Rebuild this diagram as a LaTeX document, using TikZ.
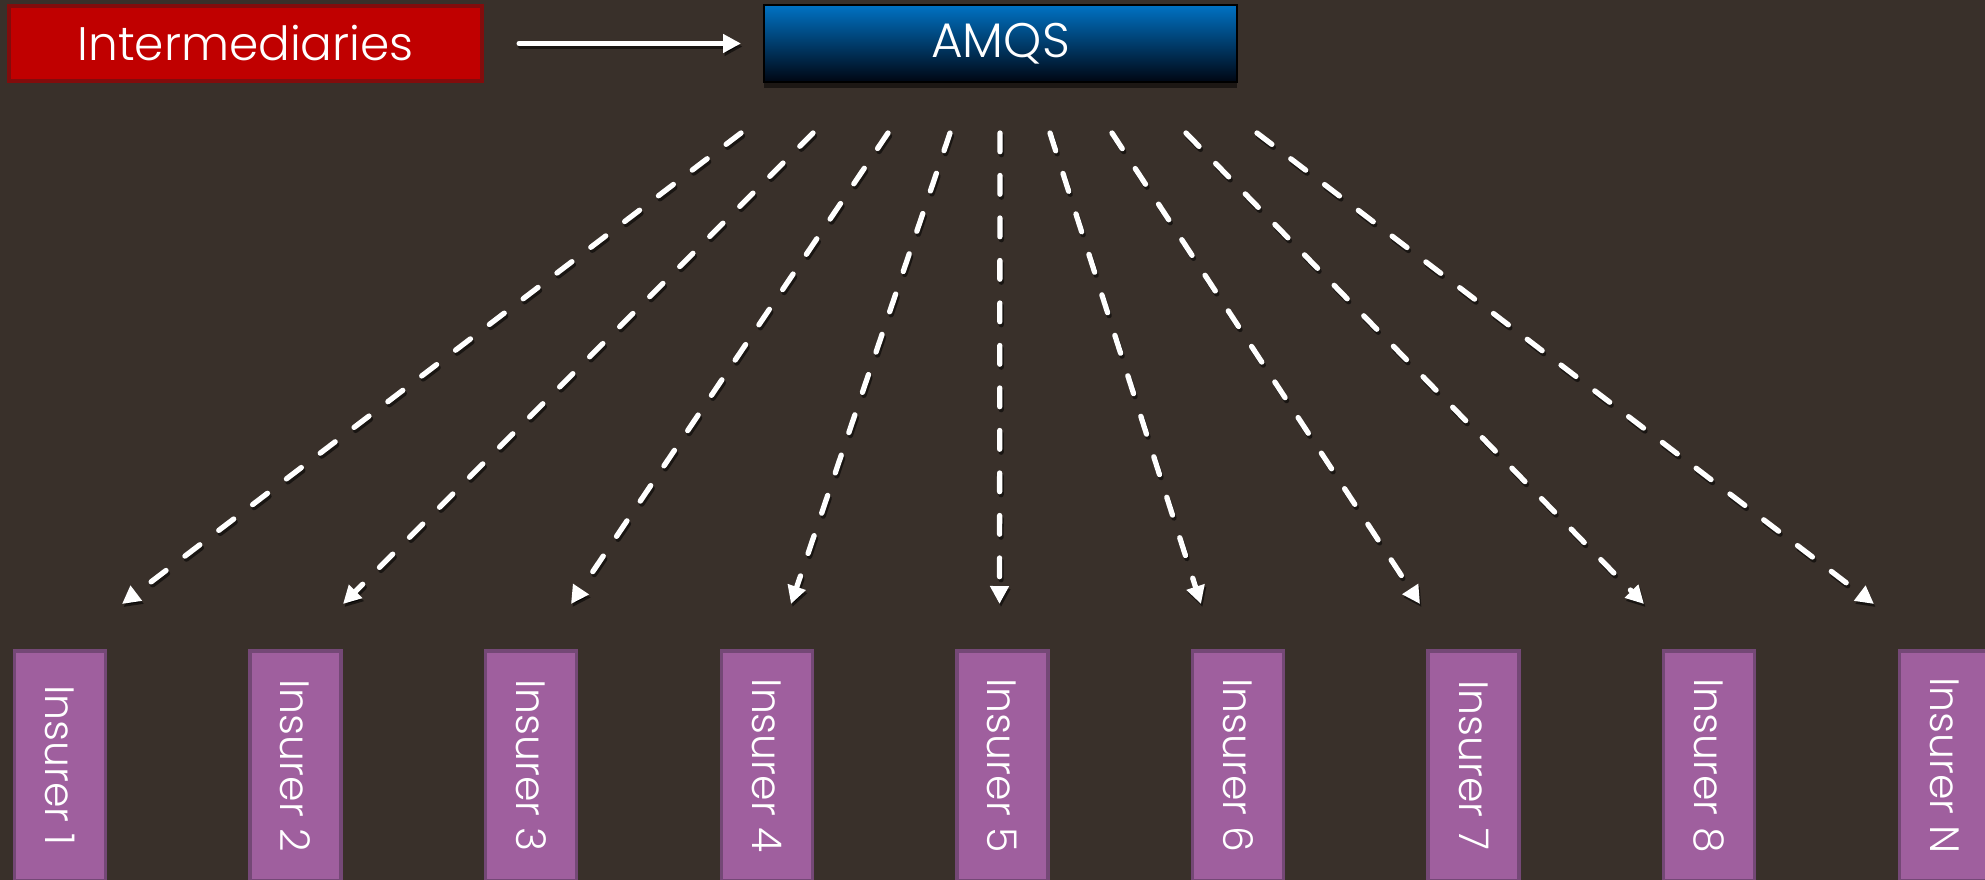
\documentclass[tikz,border=0pt]{standalone}
\usepackage{fontspec}
\setmainfont{Poppins Light}
\usetikzlibrary{arrows.meta,shadows}
\definecolor{bg}{RGB}{57,48,42}
\definecolor{redfill}{RGB}{192,0,0}
\definecolor{redline}{RGB}{130,12,12}
\definecolor{bluetop}{RGB}{0,114,196}
\definecolor{bluemid}{RGB}{0,88,158}
\definecolor{bluebot}{RGB}{0,6,18}
\definecolor{insfill}{RGB}{159,95,158}
\definecolor{insline}{RGB}{116,72,118}
\begin{document}
\begin{tikzpicture}[x=1pt,y=-1pt,
  interbox/.style={draw=redline, line width=4pt, fill=redfill, minimum width=473pt, minimum height=75pt, inner sep=0pt, text=white, font=\fontsize{47}{50}\selectfont},
  amqsbox/.style={draw=black, line width=2pt, top color=bluetop, middle color=bluemid, bottom color=bluebot, minimum width=473pt, minimum height=77pt, inner sep=0pt, text=white, font=\fontsize{48.5}{50}\selectfont, drop shadow={shadow xshift=0pt, shadow yshift=-6pt, opacity=0.5, fill=black}},
  insbox/.style={draw=insline, line width=3.5pt, fill=insfill, rotate=-90, minimum width=229.5pt, minimum height=91pt, inner sep=0pt, text=white, font=\fontsize{41}{48}\selectfont},
  harrow/.style={draw=white, line width=5pt, line cap=round, -{Triangle[length=18pt,width=18pt]}, shorten <=35pt, shorten >=22pt,
    preaction={draw=black, draw opacity=0.55, line width=5pt, line cap=round, -{Triangle[length=18pt,width=18pt]}, transform canvas={xshift=1.5pt,yshift=-3pt}}},
  dline/.style={draw=white, line width=5.3pt, line cap=round, dash pattern=on 18.7pt off 23.8pt, -{Triangle[length=18pt,width=18pt]},
    preaction={draw=black, draw opacity=0.55, line width=5.3pt, line cap=round, dash pattern=on 18.7pt off 23.8pt, -{Triangle[length=18pt,width=18pt]}, transform canvas={xshift=1.5pt,yshift=-3pt}}}
]
\useasboundingbox (0,0) rectangle (1985,880);
\fill[bg] (0,0) rectangle (1985,880);

\node[interbox] (inter) at (245.5,43.5) {Intermediaries};
\node[amqsbox] (amqs) at (1000.5,43.5) {AMQS};
\draw[harrow] (inter) -- (amqs);

\foreach \i/\lab in {1/1,2/2,3/3,4/4,5/5,6/6,7/7,8/8,9/N}
  \node[insbox] (ins\i) at ({60+235.6*(\i-1)},765.5) {Insurer \lab};

\foreach \i/\sx/\tx in {1/741/122,2/813/343,3/888/571,4/950/791,5/1000/999.5,6/1050/1201,7/1112/1420,8/1186/1644,9/1257/1874}{
  \coordinate (s\i) at (\sx,133);
  \coordinate (t\i) at (\tx,604);
}
\foreach \i in {1,...,9}
  \draw[dline] (s\i) -- (t\i);
\end{tikzpicture}
\end{document}
